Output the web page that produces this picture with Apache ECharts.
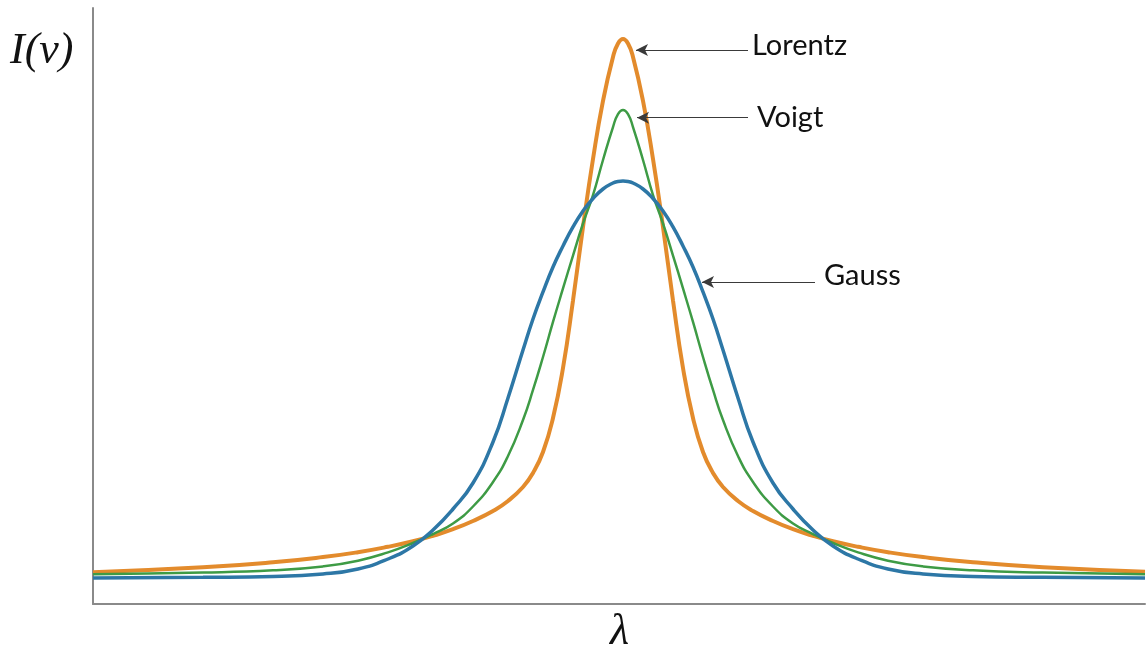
<!DOCTYPE html>
<html>
<head>
<meta charset="utf-8">
<style>
  html, body { margin: 0; padding: 0; background: #ffffff; }
  #chart { width: 1148px; height: 655px; }
</style>
<script src="https://cdn.jsdelivr.net/npm/echarts@6/dist/echarts.min.js"></script>
</head>
<body>
<div id="chart"></div>
<script>
// Wavelength samples (arbitrary units, line centre at 0)
const lambda = [-53, -42, -35, -30, -26.5, -23.5, -21, -19, -17, -15, -13, -11.5, -10, -9, -8, -7, -6, -5, -4, -3, -2, -1, -0.5,
  0, 0.5, 1, 2, 3, 4, 5, 6, 7, 8, 9, 10, 11.5, 13, 15, 17, 19, 21, 23.5, 26.5, 30, 35, 42, 52.2];

// Line-profile intensities I(ν) at each sample
const gauss = [4.36, 4.48, 4.61, 5.03, 5.87, 7.55, 9.73, 12.42, 15.94, 20.30, 27.18, 34.56, 42.62, 47.82, 52.35, 56.54, 60.07, 63.26, 65.94, 68.04, 69.63, 70.64, 70.89,
  70.97, 70.89, 70.64, 69.63, 68.04, 65.94, 63.26, 60.07, 56.54, 52.35, 47.82, 42.62, 34.56, 27.18, 20.30, 15.94, 12.42, 9.73, 7.55, 5.87, 5.03, 4.61, 4.48, 4.36];
const lorentz = [5.32, 6.16, 7.00, 7.87, 8.69, 9.60, 10.52, 11.44, 12.55, 13.93, 15.60, 17.28, 19.63, 21.98, 25.50, 31.21, 39.60, 50.92, 63.26, 74.66, 84.40, 91.78, 94.04,
  94.80, 94.04, 91.78, 84.40, 74.66, 63.26, 50.92, 39.60, 31.21, 25.50, 21.98, 19.63, 17.28, 15.60, 13.93, 12.55, 11.44, 10.52, 9.60, 8.69, 7.87, 7.00, 6.16, 5.42];
const voigt = [4.98, 5.27, 5.65, 6.31, 7.27, 8.67, 10.23, 11.74, 13.51, 16.36, 20.47, 24.83, 30.87, 35.91, 41.44, 47.32, 52.94, 58.47, 63.84, 68.62, 74.50, 80.03, 82.21,
  82.89, 82.21, 80.03, 74.50, 68.62, 63.84, 58.47, 52.94, 47.32, 41.44, 35.91, 30.87, 24.83, 20.47, 16.36, 13.51, 11.74, 10.23, 8.67, 7.27, 6.31, 5.65, 5.27, 4.98];

// Callout arrows: [label, level, arrow tip λ, arrow tail λ]
const callouts = [
  ['Lorentz', 92.95, 1.3, 12.5],
  ['Voigt', 81.59, 1.4, 12.5],
  ['Gauss', 54.03, 7.9, 19.2]
];
const calloutOffsets = { Lorentz: [0, -4], Voigt: [5, 0], Gauss: [5, -6] };

const colors = { Lorentz: '#E38B2C', Voigt: '#3E9B45', Gauss: '#2D77A6' };
const widths = { Lorentz: 4, Voigt: 2.5, Gauss: 3.5 };

const profiles = [['Lorentz', lorentz], ['Voigt', voigt], ['Gauss', gauss]];

function calloutFor(name) {
  const c = callouts.find(d => d[0] === name);
  return {
    silent: true,
    animation: false,
    symbol: ['arrow', 'none'],
    symbolSize: [9, 12],
    lineStyle: { color: '#3a3a3a', width: 1.2, type: 'solid' },
    label: {
      show: true,
      position: 'end',
      formatter: c[0],
      fontFamily: 'Lato',
      fontSize: 29,
      color: '#111111',
      distance: 4,
      offset: calloutOffsets[name]
    },
    emphasis: { disabled: true },
    data: [[{ coord: [c[2], c[1]] }, { coord: [c[3], c[1]] }]]
  };
}

const chart = echarts.init(document.getElementById('chart'), null, { renderer: 'canvas' });

chart.setOption({
  animation: false,
  backgroundColor: '#ffffff',
  grid: { left: 93, right: 3, top: 8, bottom: 51, containLabel: false },
  xAxis: {
    type: 'value',
    min: -53,
    max: 52.2,
    axisLine: { show: true, onZero: false, lineStyle: { color: '#8a8a8a', width: 2 } },
    axisTick: { show: false },
    axisLabel: { show: false },
    splitLine: { show: false }
  },
  yAxis: {
    type: 'value',
    min: 0,
    max: 100,
    axisLine: { show: true, onZero: false, lineStyle: { color: '#8a8a8a', width: 2 } },
    axisTick: { show: false },
    axisLabel: { show: false },
    splitLine: { show: false }
  },
  graphic: [
    {
      type: 'text',
      left: 10,
      top: 29,
      style: {
        text: 'I(ν)',
        font: 'italic 44px "Liberation Serif"',
        fill: '#111111'
      }
    },
    {
      type: 'text',
      left: 610,
      top: 610,
      style: {
        text: 'λ',
        font: 'italic 44px "Liberation Serif"',
        fill: '#111111'
      }
    }
  ],
  series: profiles.map(([name, values]) => ({
    name: name,
    type: 'line',
    data: lambda.map((x, i) => [x, values[i]]),
    smooth: 0.5,
    showSymbol: false,
    symbol: 'none',
    silent: true,
    lineStyle: { color: colors[name], width: widths[name] },
    itemStyle: { color: colors[name] },
    markLine: calloutFor(name)
  }))
});
</script>
</body>
</html>
